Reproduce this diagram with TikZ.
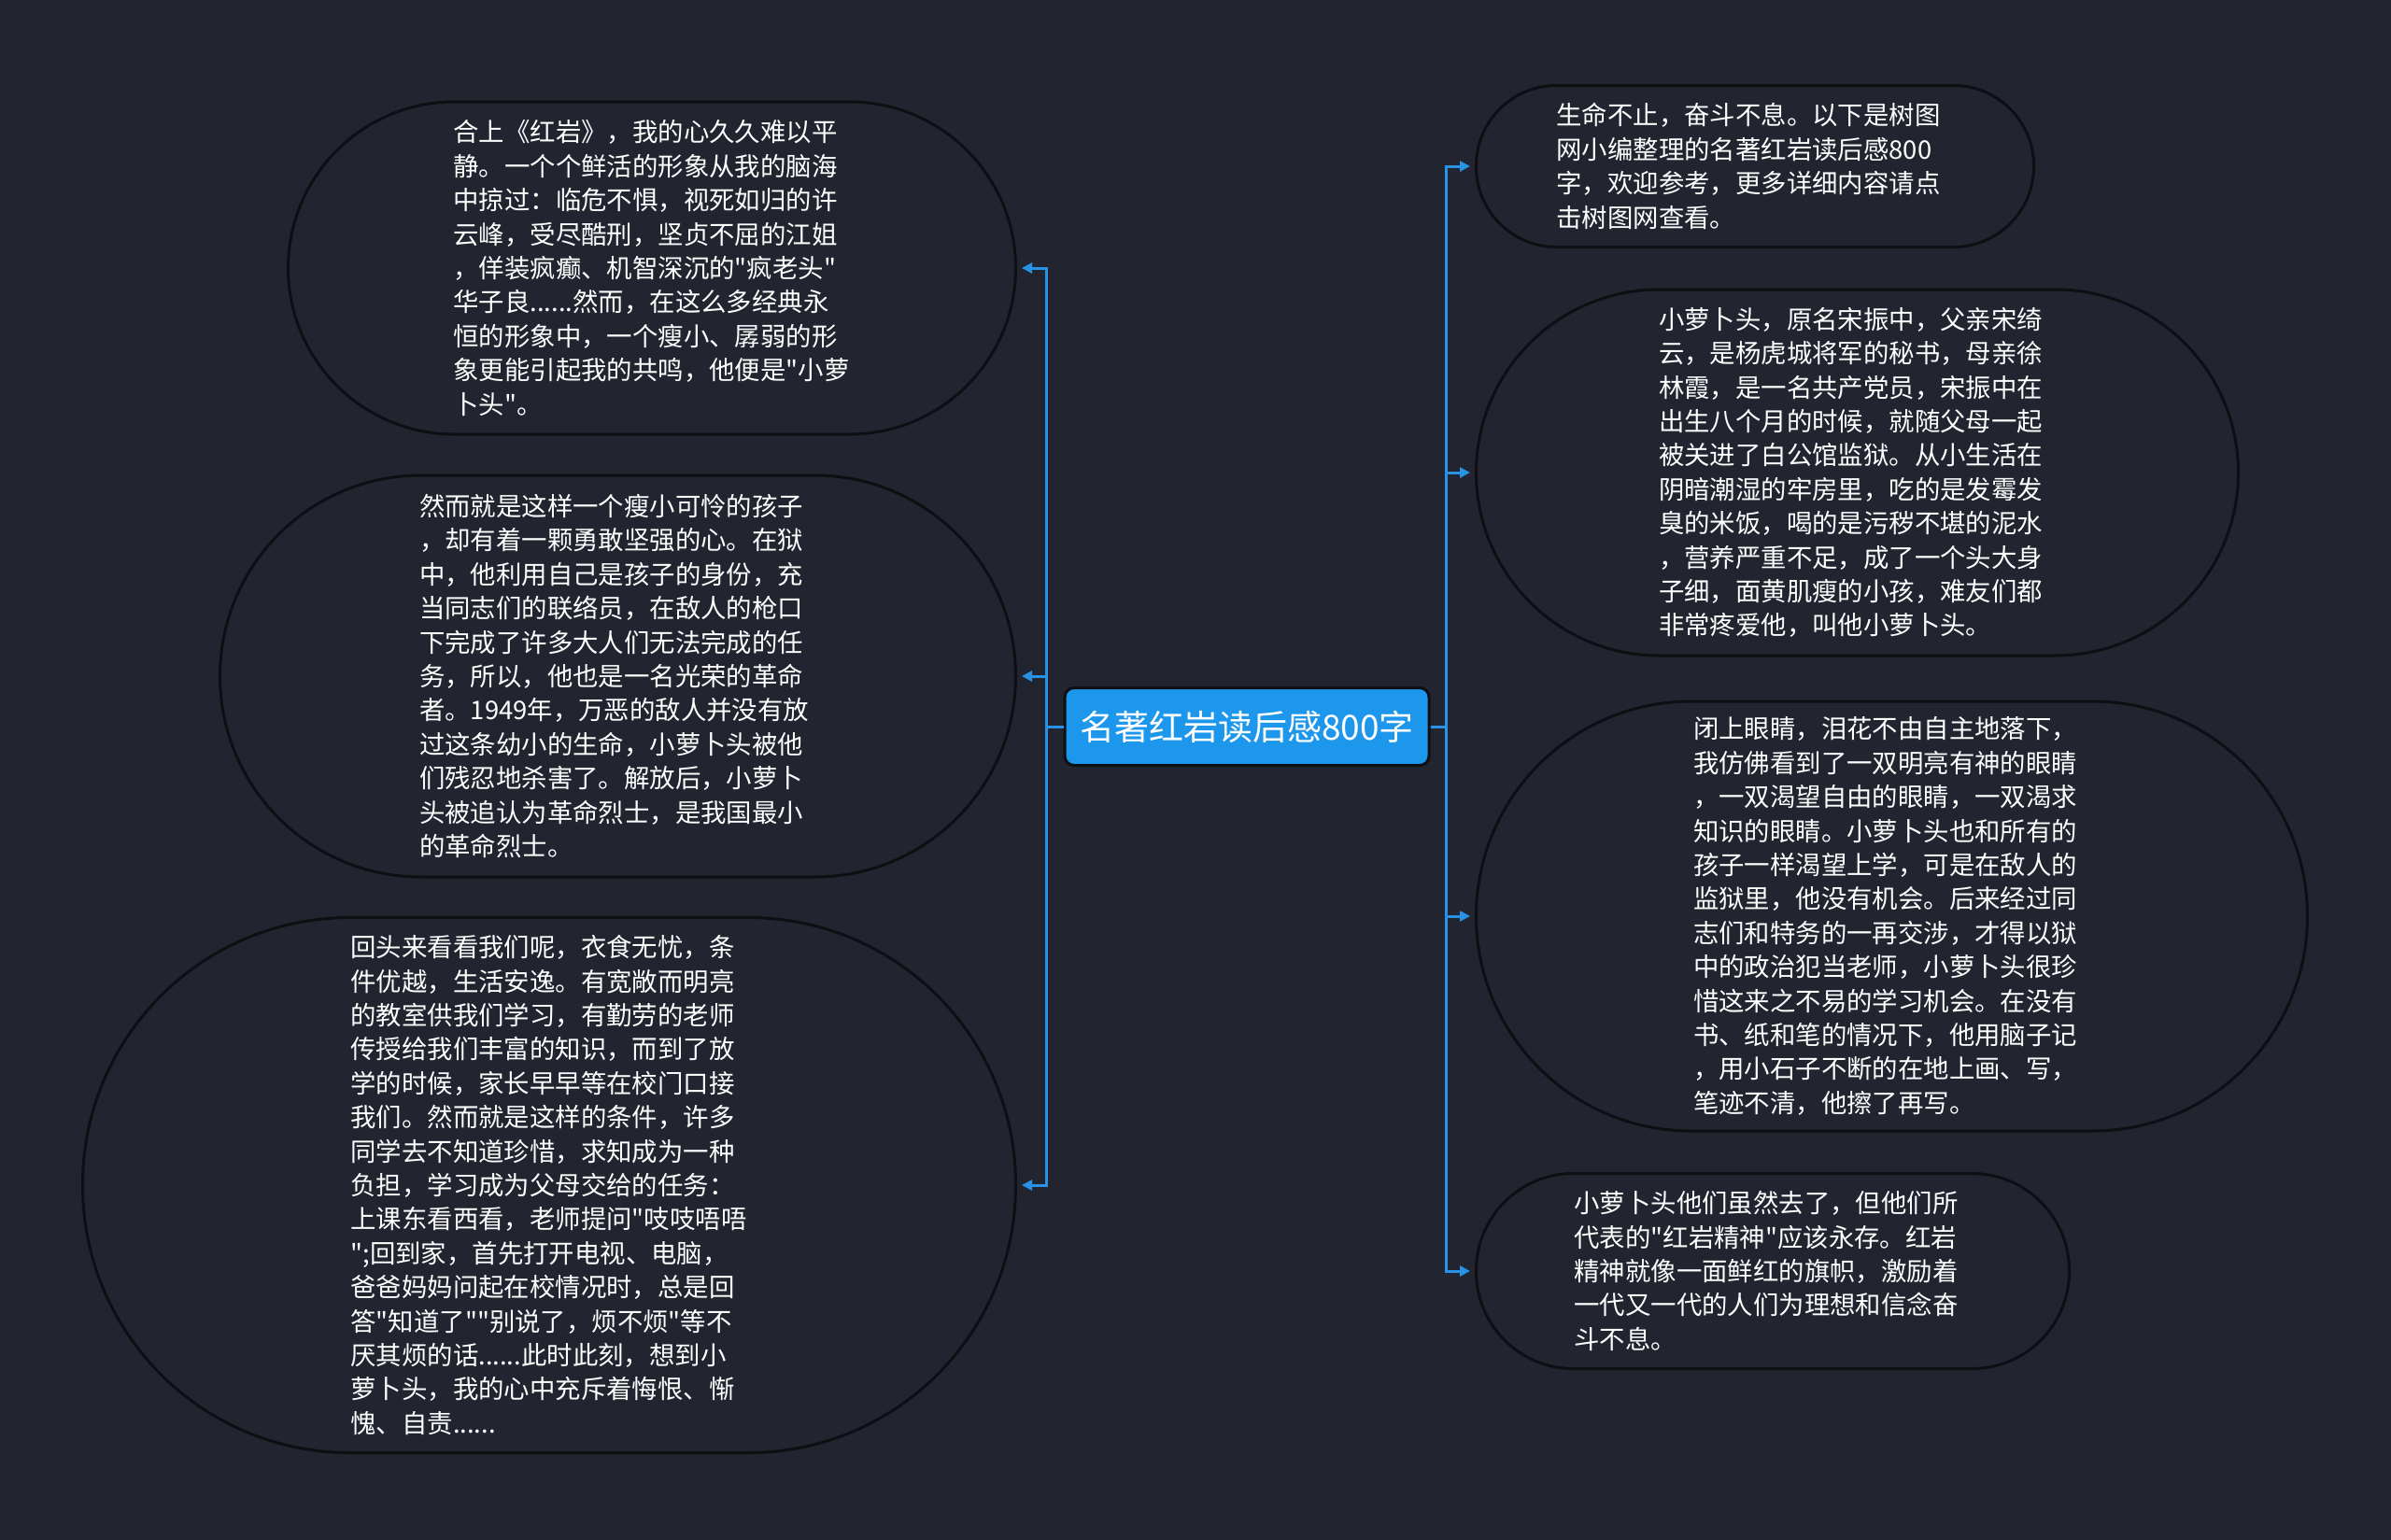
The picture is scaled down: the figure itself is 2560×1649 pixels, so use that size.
\documentclass[tikz,border=0pt]{standalone}
\usepackage{fontspec}
\newfontfamily\cjkfont{Noto Sans CJK SC}
\usetikzlibrary{arrows.meta}
\definecolor{bgc}{RGB}{34,37,48}
\definecolor{edgec}{RGB}{14,15,19}
\definecolor{connc}{RGB}{40,146,230}
\definecolor{rootc}{RGB}{29,151,236}
\tikzset{
  bubble/.style={draw=edgec, line width=3pt, fill=bgc, text=white, align=left, inner sep=0pt,
    text width=425pt, font=\cjkfont\fontsize{27.4pt}{36.4pt}\selectfont},
  rootbox/.style={draw=edgec, line width=3pt, fill=rootc, text=white, rounded corners=10pt,
    minimum width=390pt, minimum height=83pt, inner sep=0pt, font=\cjkfont\fontsize{37pt}{44pt}\selectfont},
  conn/.style={draw=connc, line width=3pt, -{Triangle[length=11pt,width=11pt]}, shorten >=5pt},
}
\begin{document}
\begin{tikzpicture}[x=1pt,y=-1pt]
\useasboundingbox (0,0) rectangle (2560,1649);
\fill[bgc] (0,0) rectangle (2560,1649);

\node[rootbox] (root) at (1335,778) {名著红岩读后感800字};
\coordinate (lj) at (1120,778);
\coordinate (rj) at (1548,778);

\node[bubble, anchor=east, minimum width=779pt, minimum height=356pt, rounded corners=178pt] (L1) at (1089,287) {合上《红岩》，我的心久久难以平\\静。一个个鲜活的形象从我的脑海\\中掠过：临危不惧，视死如归的许\\云峰，受尽酷刑，坚贞不屈的江姐\\，佯装疯癫、机智深沉的"疯老头"\\华子良......然而，在这么多经典永\\恒的形象中，一个瘦小、孱弱的形\\象更能引起我的共鸣，他便是"小萝\\卜头"。};

\node[bubble, anchor=east, minimum width=852pt, minimum height=430pt, rounded corners=215pt] (L2) at (1089,724) {然而就是这样一个瘦小可怜的孩子\\，却有着一颗勇敢坚强的心。在狱\\中，他利用自己是孩子的身份，充\\当同志们的联络员，在敌人的枪口\\下完成了许多大人们无法完成的任\\务，所以，他也是一名光荣的革命\\者。1949年，万恶的敌人并没有放\\过这条幼小的生命，小萝卜头被他\\们残忍地杀害了。解放后，小萝卜\\头被追认为革命烈士，是我国最小\\的革命烈士。};

\node[bubble, anchor=east, minimum width=999pt, minimum height=573pt, rounded corners=286pt] (L3) at (1089,1269) {回头来看看我们呢，衣食无忧，条\\件优越，生活安逸。有宽敞而明亮\\的教室供我们学习，有勤劳的老师\\传授给我们丰富的知识，而到了放\\学的时候，家长早早等在校门口接\\我们。然而就是这样的条件，许多\\同学去不知道珍惜，求知成为一种\\负担，学习成为父母交给的任务：\\上课东看西看，老师提问"吱吱唔唔\\";回到家，首先打开电视、电脑，\\爸爸妈妈问起在校情况时，总是回\\答"知道了""别说了，烦不烦"等不\\厌其烦的话......此时此刻，想到小\\萝卜头，我的心中充斥着悔恨、惭\\愧、自责......};

\node[bubble, anchor=west, minimum width=597pt, minimum height=173pt, rounded corners=86pt] (R1) at (1579,178) {生命不止，奋斗不息。以下是树图\\网小编整理的名著红岩读后感800\\字，欢迎参考，更多详细内容请点\\击树图网查看。};

\node[bubble, anchor=west, minimum width=816pt, minimum height=392pt, rounded corners=196pt] (R2) at (1579,506) {小萝卜头，原名宋振中，父亲宋绮\\云，是杨虎城将军的秘书，母亲徐\\林霞，是一名共产党员，宋振中在\\出生八个月的时候，就随父母一起\\被关进了白公馆监狱。从小生活在\\阴暗潮湿的牢房里，吃的是发霉发\\臭的米饭，喝的是污秽不堪的泥水\\，营养严重不足，成了一个头大身\\子细，面黄肌瘦的小孩，难友们都\\非常疼爱他，叫他小萝卜头。};

\node[bubble, anchor=west, minimum width=890pt, minimum height=460pt, rounded corners=230pt] (R3) at (1579,981) {闭上眼睛，泪花不由自主地落下，\\我仿佛看到了一双明亮有神的眼睛\\，一双渴望自由的眼睛，一双渴求\\知识的眼睛。小萝卜头也和所有的\\孩子一样渴望上学，可是在敌人的\\监狱里，他没有机会。后来经过同\\志们和特务的一再交涉，才得以狱\\中的政治犯当老师，小萝卜头很珍\\惜这来之不易的学习机会。在没有\\书、纸和笔的情况下，他用脑子记\\，用小石子不断的在地上画、写，\\笔迹不清，他擦了再写。};

\node[bubble, anchor=west, minimum width=635pt, minimum height=209pt, rounded corners=104pt] (R4) at (1579,1361) {小萝卜头他们虽然去了，但他们所\\代表的"红岩精神"应该永存。红岩\\精神就像一面鲜红的旗帜，激励着\\一代又一代的人们为理想和信念奋\\斗不息。};

\foreach \n in {L1,L2,L3} {
  \draw[conn] (root.west) -- (lj) |- (\n.east);
}
\foreach \n in {R1,R2,R3,R4} {
  \draw[conn] (root.east) -- (rj) |- (\n.west);
}
\end{tikzpicture}
\end{document}
